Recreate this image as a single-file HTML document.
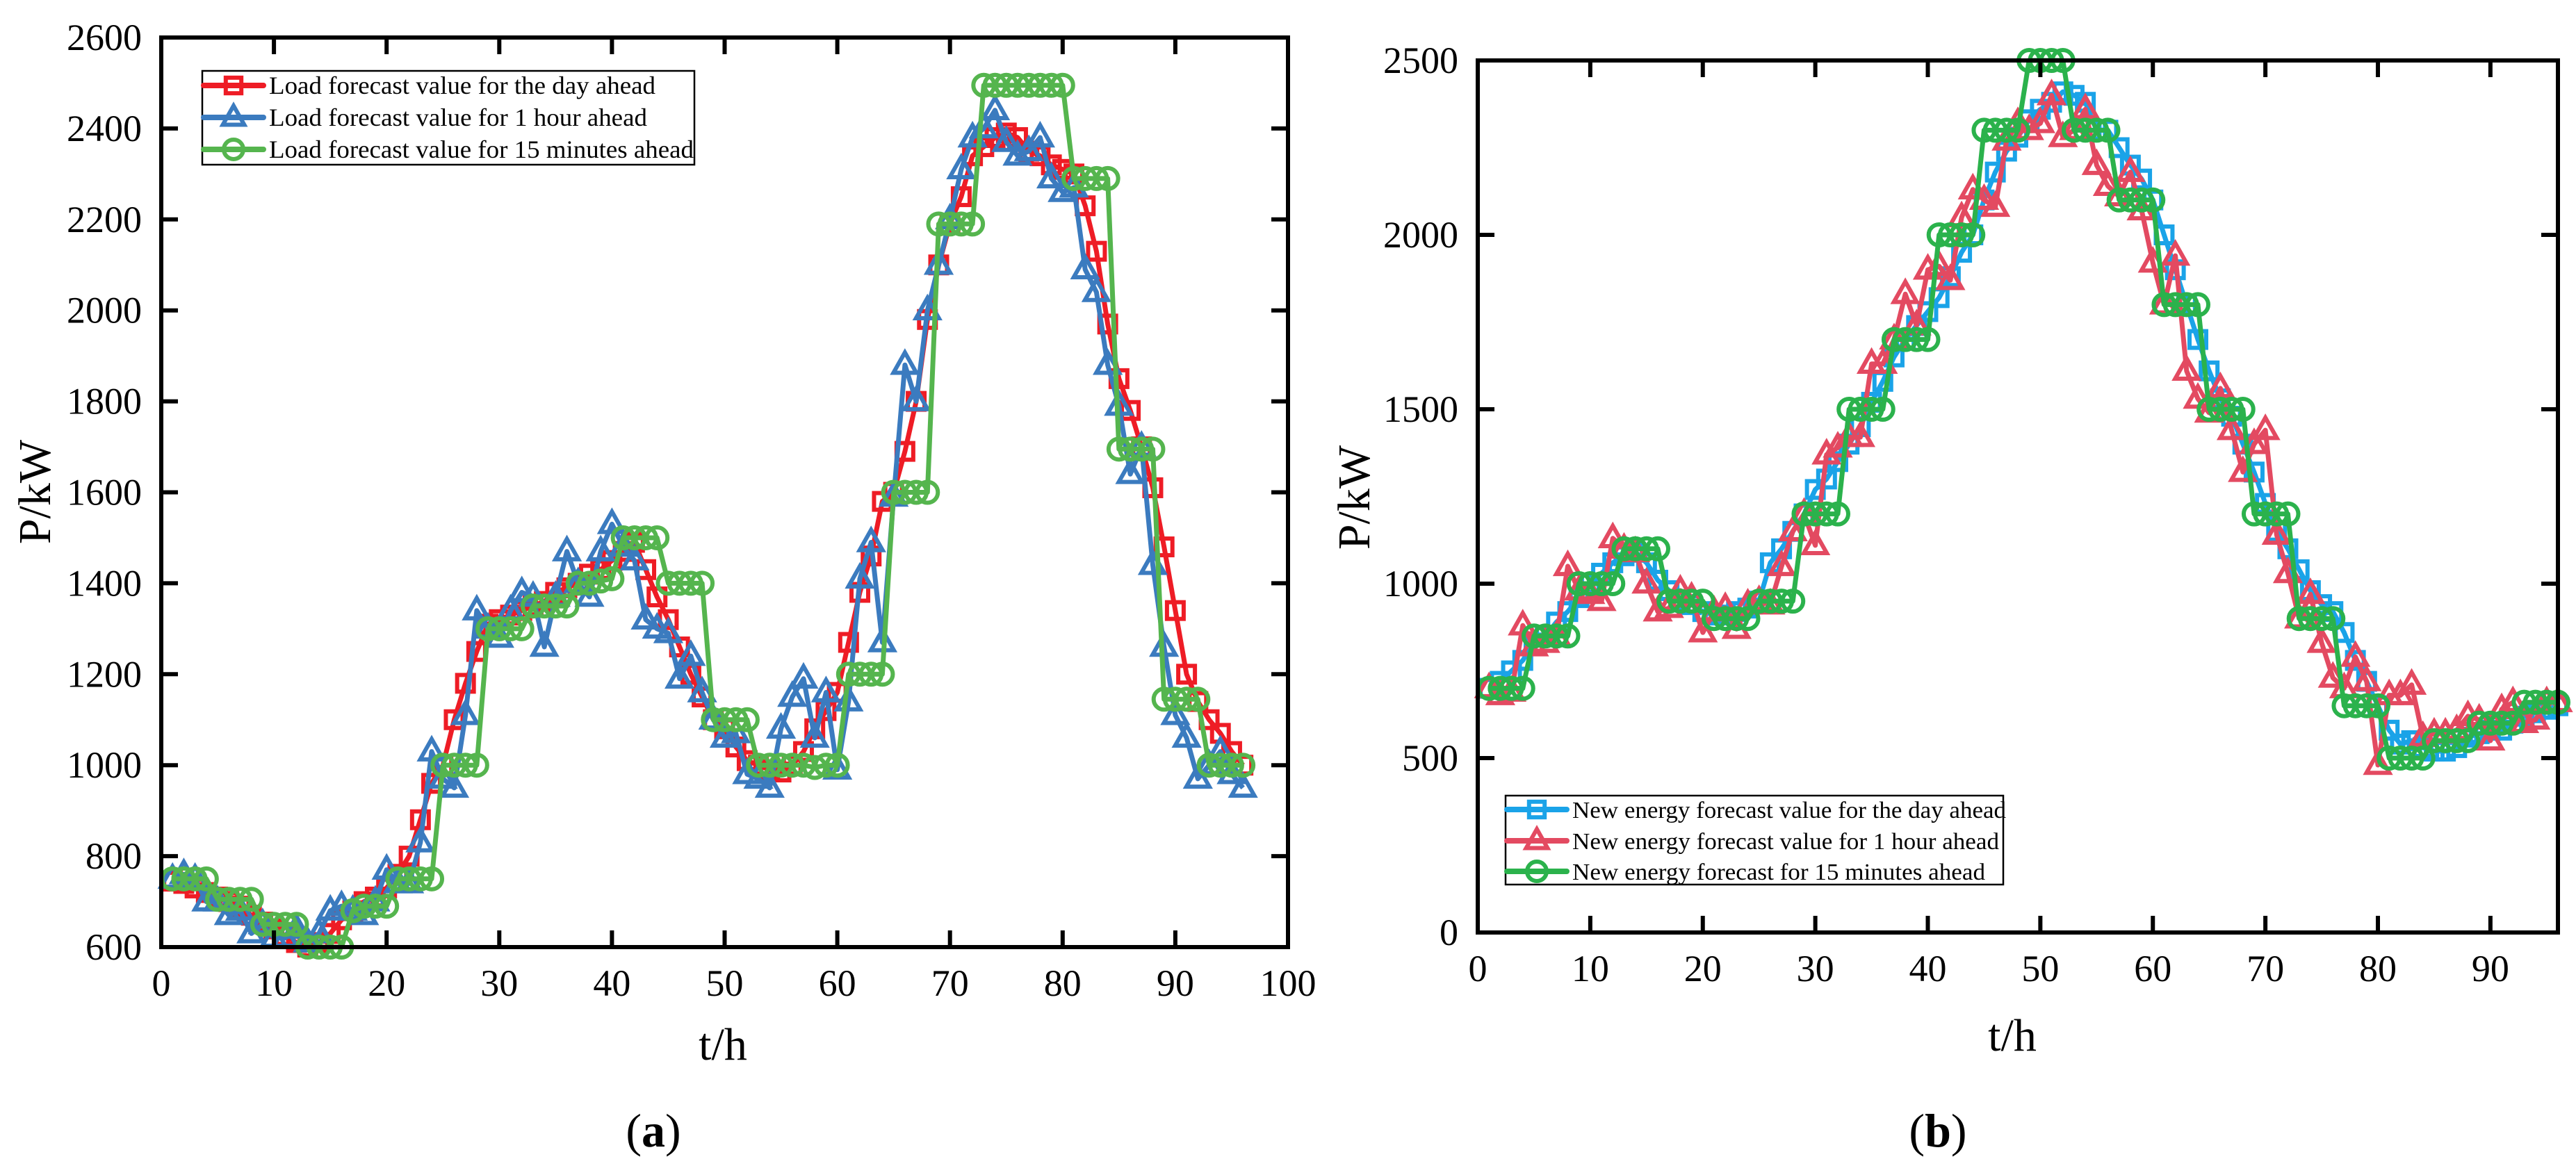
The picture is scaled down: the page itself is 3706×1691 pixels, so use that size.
<!DOCTYPE html>
<html><head><meta charset="utf-8">
<style>
html,body{margin:0;padding:0;background:#fff;}
svg{display:block;font-family:"Liberation Serif","Times New Roman",serif;}
</style></head>
<body>
<svg id="chart" width="3706" height="1691" viewBox="0 0 3706 1691" xmlns="http://www.w3.org/2000/svg"></svg>
<script>
// ---- Panel (a) data: load forecasts ----
const loadDayAhead = [745,740,730,720,710,700,690,670,655,640,625,610,600,610,630,660,680,700,710,730,760,800,880,960,1000,1100,1180,1250,1310,1320,1330,1340,1350,1360,1380,1390,1400,1420,1430,1450,1470,1490,1430,1370,1320,1260,1200,1150,1100,1080,1040,1010,1000,990,985,1000,1030,1080,1120,1160,1270,1380,1460,1580,1600,1690,1800,1980,2100,2190,2250,2340,2360,2380,2390,2380,2350,2340,2320,2310,2300,2230,2130,1970,1850,1780,1700,1610,1480,1340,1200,1140,1100,1070,1030,1000];
const load1h = [750,760,750,700,700,670,680,630,650,620,620,640,610,630,680,690,680,670,700,770,740,740,830,1030,970,950,1110,1340,1300,1280,1340,1380,1370,1260,1370,1470,1400,1370,1470,1530,1480,1450,1320,1300,1290,1190,1240,1160,1100,1060,1070,980,970,950,1080,1150,1190,1060,1160,990,1140,1410,1490,1270,1590,1880,1800,2000,2100,2200,2310,2380,2400,2440,2370,2340,2350,2380,2290,2260,2270,2090,2040,1880,1790,1640,1700,1440,1260,1110,1060,970,1000,1030,980,950];
const load15m = [750,750,750,750,705,705,705,705,650,650,650,650,600,600,600,600,680,690,690,690,750,750,750,750,1000,1000,1000,1000,1300,1300,1300,1300,1350,1350,1350,1350,1400,1400,1405,1410,1500,1500,1500,1500,1400,1400,1400,1400,1100,1100,1100,1100,1000,1000,1000,1000,1000,995,1000,1000,1200,1200,1200,1200,1600,1600,1600,1600,2190,2190,2190,2190,2495,2495,2495,2495,2495,2495,2495,2495,2290,2290,2290,2290,1695,1695,1695,1695,1145,1145,1145,1145,1000,1000,1000,1000];
const aYTicks = [600,800,1000,1200,1400,1600,1800,2000,2200,2400,2600];
const aXTicks = [0,10,20,30,40,50,60,70,80,90,100];
// ---- Panel (b) data: new energy forecasts ----
const neDayAhead = [700,720,750,780,830,850,890,920,960,1000,1030,1060,1080,1090,1060,1010,980,950,940,920,910,910,920,930,950,1060,1100,1150,1200,1270,1300,1350,1400,1450,1520,1580,1650,1700,1740,1780,1820,1880,1950,2000,2100,2180,2240,2280,2330,2360,2380,2410,2400,2380,2300,2300,2250,2200,2160,2100,2000,1900,1800,1700,1610,1530,1480,1400,1320,1230,1150,1100,1040,980,940,920,860,780,720,650,580,540,550,530,520,520,530,560,570,580,580,600,620,630,640,650];
const ne1h = [700,680,690,880,820,830,850,1050,980,970,950,1130,1100,1090,1000,920,930,980,960,860,920,930,870,940,950,940,1050,1150,1200,1110,1370,1390,1420,1420,1630,1630,1700,1830,1740,1900,1910,1870,2050,2130,2100,2080,2270,2320,2300,2320,2400,2280,2300,2360,2200,2140,2110,2180,2070,1920,1800,1940,1610,1530,1490,1560,1440,1320,1400,1440,1140,1030,900,970,830,730,700,790,720,480,680,680,710,560,570,570,580,620,610,550,640,660,600,610,660,660];
const ne15m = [700,700,700,700,850,850,850,850,1000,1000,1000,1000,1100,1100,1100,1100,950,950,950,950,900,900,900,900,950,950,950,950,1200,1200,1200,1200,1500,1500,1500,1500,1700,1700,1700,1700,2000,2000,2000,2000,2300,2300,2300,2300,2500,2500,2500,2500,2300,2300,2300,2300,2100,2100,2100,2100,1800,1800,1800,1800,1500,1500,1500,1500,1200,1200,1200,1200,900,900,900,900,650,650,650,650,500,500,500,500,550,550,550,550,600,600,600,600,660,660,660,660];
const bYTicks = [0,500,1000,1500,2000,2500];
const bXTicks = [0,10,20,30,40,50,60,70,80,90];

const NS = "http://www.w3.org/2000/svg";
const svg = document.getElementById('chart');
function mk(tag, attrs, parent){
  const e = document.createElementNS(NS, tag);
  for (const k in attrs) e.setAttribute(k, attrs[k]);
  (parent||svg).appendChild(e);
  return e;
}
function scale(d0,d1,p0,p1){ return v => p0 + (v-d0)*(p1-p0)/(d1-d0); }

function marker(g, type, x, y, color, sw, r){
  let m;
  if (type==='square') m = mk('rect',{x:x-r*0.8,y:y-r*0.8,width:r*1.6,height:r*1.6,fill:'none',stroke:color,'stroke-width':sw},g);
  else if (type==='triangle') m = mk('polygon',{points:`${x},${y-r*1.2} ${x-r*1.1},${y+r*0.75} ${x+r*1.1},${y+r*0.75}`,fill:'none',stroke:color,'stroke-width':sw,'stroke-linejoin':'miter'},g);
  else m = mk('circle',{cx:x,cy:y,r:r,fill:'none',stroke:color,'stroke-width':sw},g);
  return m;
}

function panel(cfg){
  const X = scale(cfg.xMin,cfg.xMax,cfg.left,cfg.right);
  const Y = scale(cfg.yMin,cfg.yMax,cfg.bottom,cfg.top);
  const g = mk('g',{});
  
  
  cfg.series.forEach(s=>{
    const sg = mk('g',{},g);
    
    
    const pts = s.data.map((v,i)=>`${X(i+1).toFixed(1)},${Y(v).toFixed(1)}`).join(' ');
    const pl = mk('polyline',{points:pts,fill:'none',stroke:s.color,'stroke-width':7,'stroke-linejoin':'round'},sg);
    
    
    s.data.forEach((v,i)=>{
      const m = marker(sg, s.marker, X(i+1), Y(v), s.color, 6, 15);
      
      
    });
  });
  const fr = mk('rect',{x:cfg.left,y:cfg.top,width:cfg.right-cfg.left,height:cfg.bottom-cfg.top,fill:'none',stroke:'#000','stroke-width':6},g);
  
  
  cfg.xTicks.forEach(t=>{
    const x = X(t);
    mk('line',{x1:x,y1:cfg.bottom,x2:x,y2:cfg.bottom-24,stroke:'#000','stroke-width':6},g);
    mk('line',{x1:x,y1:cfg.top,x2:x,y2:cfg.top+24,stroke:'#000','stroke-width':6},g);
    const tx = mk('text',{x:x,y:cfg.bottom+70,'font-size':54,'text-anchor':'middle'},g);
    tx.textContent = t;
    
    
  });
  cfg.yTicks.forEach(t=>{
    const y = Y(t);
    mk('line',{x1:cfg.left,y1:y,x2:cfg.left+24,y2:y,stroke:'#000','stroke-width':6},g);
    mk('line',{x1:cfg.right,y1:y,x2:cfg.right-24,y2:y,stroke:'#000','stroke-width':6},g);
    const ty = mk('text',{x:cfg.left-28,y:y+18,'font-size':54,'text-anchor':'end'},g);
    ty.textContent = t;
    
    
  });
  const xt = mk('text',{x:cfg.xTitleX,y:cfg.xTitleY,'font-size':66,'text-anchor':'middle'},g);
  xt.textContent = 't/h';
  
  
  const yt = mk('text',{x:0,y:0,'font-size':66,'text-anchor':'middle',transform:`translate(${cfg.yTitleX},${cfg.yTitleY}) rotate(-90)`},g);
  yt.textContent = 'P/kW';
  
  
  const cap = mk('text',{x:cfg.capX,y:cfg.capY,'font-size':68,'text-anchor':'middle'},g);
  
  
  cap.appendChild(document.createTextNode('('));
  const b = mk('tspan',{'font-weight':'bold'},cap); b.textContent = cfg.capLetter;
  cap.appendChild(document.createTextNode(')'));
  const L = cfg.legend;
  const lg = mk('g',{},g);
  
  
  mk('rect',{x:L.x,y:L.y,width:L.w,height:L.h,fill:'#fff',stroke:'#000','stroke-width':2.5},lg);
  cfg.series.forEach((s,i)=>{
    const ry = L.rows[i];
    const le = mk('g',{},lg);
    
    
    mk('line',{x1:L.x+2,y1:ry,x2:L.x+88,y2:ry,stroke:s.color,'stroke-width':8,'stroke-linecap':'round'},le);
    marker(le, s.marker, L.x+45, ry, s.color, 6, 14);
    const t = mk('text',{x:L.x+96,y:ry+12,'font-size':L.fs,textLength:L.tl[i],lengthAdjust:'spacingAndGlyphs'},le);
    t.textContent = s.label;
  });
}

panel({
  name:'load-forecast-chart',
  left:232,right:1853,top:54,bottom:1363,xMin:0,xMax:100,yMin:600,yMax:2600,
  xTicks:aXTicks,yTicks:aYTicks,
  xTitleX:1040,xTitleY:1525,yTitleX:72,yTitleY:708,capX:940,capY:1650,capLetter:'a',
  series:[
    {name:'load-day-ahead-series',label:'Load forecast value for the day ahead',data:loadDayAhead,color:'#ee1c25',marker:'square'},
    {name:'load-1h-ahead-series',label:'Load forecast value for 1 hour ahead',data:load1h,color:'#3b7bbf',marker:'triangle'},
    {name:'load-15min-ahead-series',label:'Load forecast value for 15 minutes ahead',data:load15m,color:'#55b54e',marker:'circle'}
  ],
  legend:{x:291,y:102,w:708,h:135,rows:[123,169,215],fs:36,tl:[556,544,611]}
});
panel({
  name:'new-energy-forecast-chart',
  left:2126,right:3680,top:87,bottom:1342,xMin:0,xMax:96,yMin:0,yMax:2500,
  xTicks:bXTicks,yTicks:bYTicks,
  xTitleX:2895,xTitleY:1512,yTitleX:1970,yTitleY:716,capX:2788,capY:1650,capLetter:'b',
  series:[
    {name:'new-energy-day-ahead-series',label:'New energy forecast value for the day ahead',data:neDayAhead,color:'#1aa3e8',marker:'square'},
    {name:'new-energy-1h-ahead-series',label:'New energy forecast value for 1 hour ahead',data:ne1h,color:'#e34a61',marker:'triangle'},
    {name:'new-energy-15min-ahead-series',label:'New energy forecast for 15 minutes ahead',data:ne15m,color:'#2bb24c',marker:'circle'}
  ],
  legend:{x:2166,y:1145,w:716,h:128,rows:[1165,1210,1254],fs:34,tl:[624,614,594]}
});
</script>
</body></html>
